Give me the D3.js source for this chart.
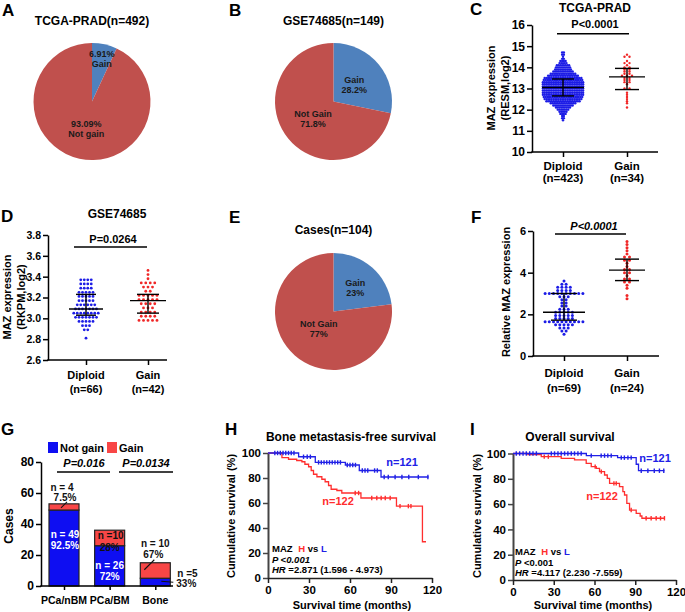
<!DOCTYPE html>
<html><head><meta charset="utf-8">
<script src="https://cdn.jsdelivr.net/npm/d3@7"></script>
<style>
body{margin:0;background:#fff}
text{font-family:"Liberation Sans",Arial,sans-serif;font-weight:bold}
</style>
</head><body>
<svg id="c" width="685" height="612"></svg>
<script>
// ---------------- DATA ----------------
// Pies (A, B, E)
const pieTitles = ["TCGA-PRAD(n=492)", "GSE74685(n=149)", "Cases(n=104)"];
const pieGain = [6.91, 28.2, 23];
const pieNotGain = [93.09, 71.8, 77];
const pieGainLabels = [["6.91%", "Gain"], ["Gain", "28.2%"], ["Gain", "23%"]];
const pieNotLabels = [["93.09%", "Not gain"], ["Not Gain", "71.8%"], ["Not Gain", "77%"]];

// C: TCGA-PRAD dot plot (row value / number of dots in the row)
const cCats = ["Diploid", "Gain"];
const cN = ["(n=423)", "(n=34)"];
const cDipRows = [11.5,11.6,11.7,11.8,11.9,12.0,12.1,12.2,12.3,12.4,12.5,12.6,12.7,12.8,12.9,13.0,13.1,13.2,13.3,13.4,13.5,13.6,13.7,13.8,13.9,14.0,14.1,14.2,14.3,14.4,14.5,14.6,14.7];
const cDipCounts = [1,2,2,4,5,7,9,12,15,20,22,23,24,24,24,24,24,24,24,23,22,18,15,12,10,9,8,5,4,2,1,2,2];
const cGainRows = [14.6,14.5,14.3,14.2,14.1,14.0,13.9,13.8,13.7,13.6,13.5,13.4,13.3,13.2,13.0,12.8,12.7,12.6,12.5,12.4,12.3,12.1];
const cGainCounts = [1,2,1,2,1,2,2,2,2,3,2,2,2,1,2,1,1,1,1,1,1,1];
const cStats = [[13.05, 12.65, 13.45], [13.55, 12.95, 13.95]]; // centre, low, high
const cTicks = [10,11,12,13,14,15,16];

// D: GSE74685 dot plot
const dCats = ["Diploid", "Gain"];
const dN = ["(n=66)", "(n=42)"];
const dDipRows = [3.37,3.33,3.29,3.25,3.21,3.17,3.13,3.09,3.05,3.01,2.97,2.93,2.89,2.81];
const dDipCounts = [4,4,4,5,5,5,6,7,8,7,5,3,2,1];
const dGainRows = [3.46,3.42,3.38,3.34,3.30,3.26,3.22,3.18,3.14,3.10,3.06,3.02,2.98];
const dGainCounts = [1,1,1,4,3,2,5,5,4,3,4,4,5];
const dStats = [[3.09, 3.03, 3.23], [3.17, 3.05, 3.23]];
const dTicks = [2.6,2.8,3.0,3.2,3.4,3.6,3.8];

// F: relative MAZ expression dot plot
const fCats = ["Diploid", "Gain"];
const fN = ["(n=69)", "(n=24)"];
const fDipRows = [3.6,3.45,3.3,3.15,3.0,2.85,2.7,2.55,2.4,2.25,2.1,1.95,1.8,1.65,1.5,1.35,1.2,1.05];
const fDipCounts = [1,2,4,4,10,3,2,2,2,3,5,5,5,10,5,3,2,1];
const fGainRows = [5.5,5.35,5.2,5.05,4.9,4.75,4.6,4.45,4.3,4.15,4.0,3.85,3.7,3.55,3.4,3.25,2.9,2.75];
const fGainCounts = [1,1,1,1,1,2,2,1,1,2,2,1,2,2,1,1,1,1];
const fStats = [[2.1, 1.72, 3.0], [4.12, 3.62, 4.65]];
const fTicks = [0,2,4,6];

// G: stacked bars
const gCats = ["PCa/nBM", "PCa/BM", "Bone"];
const gNotGain = [49, 26, 5];
const gGain = [4, 10, 10];
const gNotLabels = [["n = 49", "92.5%"], ["n = 26", "72%"], ["n =5", "33%"]];
const gGainLabels = [["n = 4", "7.5%"], ["n =10", "28%"], ["n = 10", "67%"]];
const gTicks = [0,20,40,60,80];

// H: bone metastasis-free survival  [month, %]
const hLow = [[0,100],[22.4,97],[34.6,92.5],[56.6,90.4],[66.8,86],[82.7,80.8]];
const hLowEnd = 117.5;
const hLowCensor = [5,7,9,11,13,15,17,19,26,28.7,31,37,39,41,43,45,47,49,51,53,58,60,62,64,69,71,73,78,80,85,88,93,98,103,110,117];
const hHigh = [[0,100],[10.2,96.3],[15,95],[21,94],[24.8,93],[27,91],[29.7,89],[31.6,86],[33.3,83],[35.8,81],[39.4,79],[41.8,77],[44.3,74],[46.2,71],[50.4,70],[54,68],[68,64],[94,57.5],[113,29]];
const hHighEnd = 115.6;
const hHighCensor = [63.8,66.3,75.9,79.6,82.8,85.8,89.4,96.6,102.7,104.6];

// I: overall survival
const iLow = [[0,100],[54,98.3],[77,96.7],[90.7,91.5],[92.4,86.4]];
const iLowEnd = 111.5;
const iLowCensor = [2.4,4.9,7.4,9.8,12.3,14.7,17.2,28.2,30.6,33.1,35.5,38,40.4,42.9,45.3,47.8,50.2,57.6,64.9,67.4,69.8,72.3,79.7,82,84.6,87,94.4,99.3,104,107.8,111];
const iHigh = [[0,100],[11,99.2],[20.8,97.5],[35.5,96.2],[45.3,94.9],[53.9,92.2],[57.6,89.6],[61.3,88.3],[63.7,85.7],[67.4,83],[69.4,80.4],[71.1,76.4],[78.4,73.8],[80.9,69.9],[82.1,67.2],[83.8,60.6],[85.8,55.3],[90.7,52.7],[93.6,50.6],[94.9,48.8]];
const iHighEnd = 111.5;
const iHighCensor = [23,26,60.5,65,74.3,76,87,98,101.7,105.4,108.6,111.5];

const survTicksX = [0,30,60,90,120];
const survTicksY = [0,20,40,60,80,100];

// ---------------- DRAWING ----------------
const svg = d3.select("#c");
svg.append("rect").attr("width",685).attr("height",612).attr("fill","#fff");
const FONT = '"Liberation Sans", Arial, sans-serif';
const pieRed = "#c0504d", pieBlue = "#4f81bd";
const dotBlue = "#1c1ce6", dotRed = "#f02626";

function txt(x, y, s, o = {}) {
  const t = svg.append("text").attr("x", x).attr("y", y).text(s)
    .attr("font-size", o.size || 12).attr("text-anchor", o.anchor || "start")
    .attr("fill", o.fill || "#000");
  if (o.italic) t.attr("font-style", "italic");
  if (o.rotate) t.attr("transform", `rotate(-90,${x},${y})`);
  return t;
}
function line(x1, y1, x2, y2, c = "#000", w = 1.5) {
  svg.append("line").attr("x1", x1).attr("y1", y1).attr("x2", x2).attr("y2", y2)
    .attr("stroke", c).attr("stroke-width", w);
}
function styleAxis(g, size, color = "#000") {
  g.attr("font-family", FONT).attr("font-size", size).attr("font-weight", "bold");
  g.selectAll("path,line").attr("stroke", color).attr("stroke-width", 1.5);
  g.selectAll("text").attr("fill", "#000");
}

// panel letters
[["A",2,16],["B",229,16],["C",470,15],["D",1,222],["E",229,223],["F",471,223],["G",1,435],["H",225,435],["I",470,435]]
  .forEach(([l,x,y]) => txt(x, y, l, {size: 17}));

// ---- pies ----
function drawPie(i, cx, cy, r, titleY, lr) {
  txt(cx, titleY, pieTitles[i], {size: 12, anchor: "middle"});
  const arcs = d3.pie().sort(null)([pieGain[i], pieNotGain[i]]);
  const g = svg.append("g").attr("transform", `translate(${cx},${cy})`);
  const arc = d3.arc().innerRadius(0).outerRadius(r);
  g.selectAll("path").data(arcs).join("path").attr("d", arc)
    .attr("fill", (d, k) => k === 0 ? pieBlue : pieRed);
  const labs = [pieGainLabels[i], pieNotLabels[i]];
  arcs.forEach((a, k) => {
    const c = d3.arc().innerRadius(r * lr[k]).outerRadius(r * lr[k]).centroid(a);
    txt(cx + c[0], cy + c[1] - 1, labs[k][0], {size: 9, anchor: "middle", fill: "#1a1a1a"});
    txt(cx + c[0], cy + c[1] + 9, labs[k][1], {size: 9, anchor: "middle", fill: "#1a1a1a"});
  });
}
drawPie(0, 92, 101.5, 58.5, 25, [0.77, 0.46]);
drawPie(1, 333.5, 101.5, 58.5, 25, [0.46, 0.45]);
drawPie(2, 333.5, 311.5, 58.5, 234, [0.56, 0.38]);

// ---- dot plots ----
function dotPlot(p) {
  const y = d3.scaleLinear().domain([p.ticks[0], p.ticks[p.ticks.length - 1]]).range(p.yRange);
  const x = d3.scalePoint().domain(p.cats).range(p.catX);
  const ya = svg.append("g").attr("transform", `translate(${p.axisX[0]},0)`)
    .call(d3.axisLeft(y).tickValues(p.ticks).tickFormat(p.fmt).tickSize(5).tickSizeOuter(0).tickPadding(2));
  styleAxis(ya, p.tickFont);
  const xa = svg.append("g").attr("transform", `translate(0,${p.yRange[0]})`)
    .call(d3.axisBottom(x).tickSize(5).tickSizeOuter(0).tickFormat(""));
  styleAxis(xa, p.tickFont);
  xa.select(".domain").remove();
  line(p.axisX[0] - 0.75, p.yRange[0], p.axisX[1], p.yRange[0]);
  p.cats.forEach((c, k) => {
    txt(x(c), p.catY[0], c, {size: p.catFont, anchor: "middle"});
    txt(x(c), p.catY[1], p.nLabels[k], {size: p.catFont, anchor: "middle"});
  });
  // dots
  p.groups.forEach((g, gi) => {
    const cx0 = x(p.cats[gi]);
    g.rows.forEach((v, ri) => {
      const n = g.counts[ri];
      for (let i = 0; i < n; i++) {
        svg.append("circle").attr("cx", cx0 + (i - (n - 1) / 2) * g.spacing).attr("cy", y(v))
          .attr("r", p.dotR).attr("fill", g.color);
      }
    });
  });
  // centre line and bars
  p.stats.forEach(([m, lo, hi], gi) => {
    const cx = x(p.cats[gi]);
    const [lh, ch] = p.halves[gi];
    line(cx - lh, y(m), cx + lh, y(m), "#000", 1.4);
    line(cx, y(lo), cx, y(hi), "#000", 1.4);
    line(cx - ch, y(lo), cx + ch, y(lo), "#000", 1.4);
    line(cx - ch, y(hi), cx + ch, y(hi), "#000", 1.4);
  });
  // p value
  txt(p.pX, p.pY, p.pText, {size: 11, anchor: "middle", italic: p.pItalic});
  line(p.pLine[0], p.pLine[2], p.pLine[1], p.pLine[2], "#000", 1.6);
  if (p.title) txt(p.title[1], p.title[2], p.title[0], {size: 12, anchor: "middle"});
  p.ylabels.forEach(([s, xc]) => txt(xc + 4, p.ylabelCy, s, {size: 11, anchor: "middle", rotate: true}));
}

dotPlot({
  ticks: cTicks, fmt: d3.format("d"), yRange: [152, 25], tickFont: 12,
  cats: cCats, catX: [563, 627], axisX: [532, 658], nLabels: cN, catY: [170, 182], catFont: 11.5,
  groups: [{rows: cDipRows, counts: cDipCounts, color: dotBlue, spacing: 1.75},
           {rows: cGainRows, counts: cGainCounts, color: dotRed, spacing: 5}],
  dotR: 1.2, stats: cStats, halves: [[21, 11], [18, 12]],
  pText: "P<0.0001", pItalic: false, pX: 595, pY: 28, pLine: [557, 629, 33.7],
  title: ["TCGA-PRAD", 595, 12],
  ylabels: [["MAZ expression", 491], ["(RESM,log2)", 505]], ylabelCy: 88
});

dotPlot({
  ticks: dTicks, fmt: d3.format(".1f"), yRange: [360, 235], tickFont: 10.5,
  cats: dCats, catX: [86, 148], axisX: [48, 167], nLabels: dN, catY: [379, 393], catFont: 11,
  groups: [{rows: dDipRows, counts: dDipCounts, color: dotBlue, spacing: 3.5},
           {rows: dGainRows, counts: dGainCounts, color: dotRed, spacing: 4.5}],
  dotR: 1.4, stats: dStats, halves: [[17, 10], [18, 11]],
  pText: "P=0.0264", pItalic: false, pX: 113, pY: 243, pLine: [74, 147, 247],
  title: ["GSE74685", 117, 218],
  ylabels: [["MAZ expression", 7], ["(RKPM,log2)", 21]], ylabelCy: 297
});

dotPlot({
  ticks: fTicks, fmt: d3.format("d"), yRange: [356, 231], tickFont: 11,
  cats: fCats, catX: [564, 627], axisX: [533, 659], nLabels: fN, catY: [377, 392], catFont: 11.5,
  groups: [{rows: fDipRows, counts: fDipCounts, color: dotBlue, spacing: 4.2},
           {rows: fGainRows, counts: fGainCounts, color: dotRed, spacing: 5}],
  dotR: 1.5, stats: fStats, halves: [[21, 13], [18, 12]],
  pText: "P<0.0001", pItalic: true, pX: 594, pY: 230, pLine: [555, 626, 234],
  title: null,
  ylabels: [["Relative MAZ expression", 506]], ylabelCy: 292
});

// ---- G: stacked bars ----
(function () {
  const y = d3.scaleLinear().domain([0, 80]).range([586, 462]);
  const x = d3.scalePoint().domain(gCats).range([64, 155.3]);
  const bw = 30;
  const blueB = "#0e0ef2", redB = "#f84646";
  const ya = svg.append("g").attr("transform", "translate(41,0)")
    .call(d3.axisLeft(y).tickValues(gTicks).tickSize(5).tickSizeOuter(0).tickPadding(2));
  styleAxis(ya, 12);
  const xa = svg.append("g").attr("transform", "translate(0,586)")
    .call(d3.axisBottom(x).tickSize(4).tickSizeOuter(0).tickFormat(""));
  styleAxis(xa, 12);
  xa.select(".domain").remove();
  gCats.forEach((c, k) => {
    const cx = x(c);
    svg.append("rect").attr("x", cx - bw / 2).attr("y", y(gNotGain[k])).attr("width", bw)
      .attr("height", y(0) - y(gNotGain[k])).attr("fill", blueB).attr("stroke", "#222").attr("stroke-width", 1.2);
    svg.append("rect").attr("x", cx - bw / 2).attr("y", y(gNotGain[k] + gGain[k])).attr("width", bw)
      .attr("height", y(gNotGain[k]) - y(gNotGain[k] + gGain[k])).attr("fill", redB).attr("stroke", "#222").attr("stroke-width", 1.2);
    txt(cx, 604, c, {size: 10.5, anchor: "middle"});
  });
  line(40.25, 586, 173, 586);
  // annotations
  const c0 = x(gCats[0]), c1 = x(gCats[1]), c2 = x(gCats[2]);
  const t0 = y(gNotGain[0] + gGain[0]);
  txt(c0 - 2, t0 - 13, gGainLabels[0][0], {size: 10, anchor: "middle", fill: "#111"});
  txt(c0 + 1, t0 - 3, gGainLabels[0][1], {size: 10, anchor: "middle", fill: "#111"});
  line(c0 - 3, t0 + 4, c0 + 3, t0 - 2, "#111", 1.1);
  txt(c0 + 1, y(gNotGain[0]) + 28, gNotLabels[0][0], {size: 10, anchor: "middle", fill: "#fff"});
  txt(c0 + 1, y(gNotGain[0]) + 39, gNotLabels[0][1], {size: 10, anchor: "middle", fill: "#fff"});
  const t1 = y(gNotGain[1] + gGain[1]);
  txt(c1 + 1, t1 + 9, gGainLabels[1][0], {size: 10, anchor: "middle", fill: "#111"});
  txt(c1, t1 + 21, gGainLabels[1][1], {size: 10, anchor: "middle", fill: "#111"});
  txt(c1, y(gNotGain[1]) + 23, gNotLabels[1][0], {size: 10, anchor: "middle", fill: "#fff"});
  txt(c1, y(gNotGain[1]) + 34, gNotLabels[1][1], {size: 10, anchor: "middle", fill: "#fff"});
  const t2 = y(gNotGain[2] + gGain[2]);
  txt(c2, t2 - 16, gGainLabels[2][0], {size: 10, anchor: "middle", fill: "#111"});
  txt(c2 - 2, t2 - 5, gGainLabels[2][1], {size: 10, anchor: "middle", fill: "#111"});
  line(c2 - 11, t2 + 7, c2 - 1, t2 - 3, "#111", 1.1);
  txt(c2 + 22, y(gNotGain[2]) - 1, gNotLabels[2][0], {size: 10, fill: "#111"});
  txt(c2 + 21, y(gNotGain[2]) + 9, gNotLabels[2][1], {size: 10, fill: "#111"});
  line(c2 + 6, y(gNotGain[2]) + 3, c2 + 18, y(gNotGain[2]) + 4, "#111", 1.1);
  // p values
  txt(84, 467, "P=0.016", {size: 11, anchor: "middle", italic: true});
  line(57, 472, 110, 472, "#000", 1.6);
  txt(146, 467, "P=0.0134", {size: 11, anchor: "middle", italic: true});
  line(119, 472, 173, 472, "#000", 1.6);
  // legend
  svg.append("rect").attr("x", 48).attr("y", 442).attr("width", 10).attr("height", 11).attr("fill", blueB);
  txt(60, 451.5, "Not gain", {size: 11});
  svg.append("rect").attr("x", 107).attr("y", 442).attr("width", 10).attr("height", 11).attr("fill", redB);
  txt(119, 451.5, "Gain", {size: 11});
  txt(13, 526, "Cases", {size: 12, anchor: "middle", rotate: true});
})();

// ---- KM panels ----
function survAt(steps, t) {
  let s = steps[0][1];
  steps.forEach(d => { if (d[0] <= t) s = d[1]; });
  return s;
}
function kmPanel(p) {
  const x = d3.scaleLinear().domain([0, 120]).range(p.xRange);
  const y = d3.scaleLinear().domain([0, 100]).range(p.yRange);
  const ya = svg.append("g").attr("transform", `translate(${p.xRange[0]},0)`)
    .call(d3.axisLeft(y).tickValues(survTicksY).tickSize(5).tickSizeOuter(0).tickPadding(2));
  styleAxis(ya, 11.5, "#444");
  ya.select(".domain").attr("stroke-width", 2);
  const xa = svg.append("g").attr("transform", `translate(0,${p.yRange[0]})`)
    .call(d3.axisBottom(x).tickValues(survTicksX).tickSize(5).tickSizeOuter(0).tickPadding(3));
  styleAxis(xa, 11.5, "#222");
  p.series.forEach(s => {
    const pts = s.steps.concat([[s.end, s.steps[s.steps.length - 1][1]]]);
    svg.append("path")
      .attr("d", d3.line().x(d => x(d[0])).y(d => y(d[1])).curve(d3.curveStepAfter)(pts))
      .attr("fill", "none").attr("stroke", s.color).attr("stroke-width", 1.3);
    s.censor.forEach(t => {
      const sv = survAt(s.steps, t);
      line(x(t), y(sv) - 2.2, x(t), y(sv) + 2.2, s.color, 1.4);
    });
  });
  txt(p.titleX, 441, p.title, {size: 12, anchor: "middle"});
  txt(p.xlabelX, 609, "Survival time (months)", {size: 11, anchor: "middle"});
  txt(p.ylabelX + 4, 516, "Cumulative survival (%)", {size: 11, anchor: "middle", rotate: true});
  txt(p.n121[0], p.n121[1], "n=121", {size: 11, anchor: "middle", fill: p.blue});
  txt(p.n122[0], p.n122[1], "n=122", {size: 11, anchor: "middle", fill: p.red});
  const t1 = svg.append("text").attr("x", p.legX).attr("y", p.legY).attr("font-size", 9.5).attr("fill", "#000");
  t1.append("tspan").text("MAZ ");
  t1.append("tspan").attr("dx", 3).attr("fill", p.red).text("H");
  t1.append("tspan").text(" vs ");
  t1.append("tspan").attr("fill", p.blue).text("L");
  const t2 = svg.append("text").attr("x", p.legX).attr("y", p.legY + 10.5).attr("font-size", 9.5).attr("fill", "#000");
  t2.append("tspan").attr("font-style", "italic").text("P");
  t2.append("tspan").attr("font-style", p.pAllItalic ? "italic" : "normal").text(" <0.001");
  const t3 = svg.append("text").attr("x", p.legX).attr("y", p.legY + 21).attr("font-size", 9.5).attr("fill", "#000");
  t3.append("tspan").attr("font-style", "italic").text("HR");
  t3.append("tspan").text(p.hr);
}
const kmBlue = "#2020e6", kmRed = "#ff2e2e";
kmPanel({
  xRange: [268, 432], yRange: [578, 453],
  series: [{steps: hHigh, end: hHighEnd, censor: hHighCensor, color: kmRed},
           {steps: hLow, end: hLowEnd, censor: hLowCensor, color: kmBlue}],
  title: "Bone metastasis-free survival", titleX: 351, xlabelX: 352, ylabelX: 231,
  n121: [402, 466], n122: [338, 505], blue: kmBlue, red: kmRed,
  legX: 272, legY: 552, pAllItalic: true, hr: " =2.871 (1.596 - 4.973)"
});
kmPanel({
  xRange: [513, 676], yRange: [580, 453.5],
  series: [{steps: iHigh, end: iHighEnd, censor: iHighCensor, color: kmRed},
           {steps: iLow, end: iLowEnd, censor: iLowCensor, color: kmBlue}],
  title: "Overall survival", titleX: 570, xlabelX: 593, ylabelX: 477,
  n121: [655, 462], n122: [602, 500], blue: kmBlue, red: kmRed,
  legX: 515, legY: 555, pAllItalic: false, hr: " =4.117 (2.230 -7.559)"
});
</script>
</body></html>
